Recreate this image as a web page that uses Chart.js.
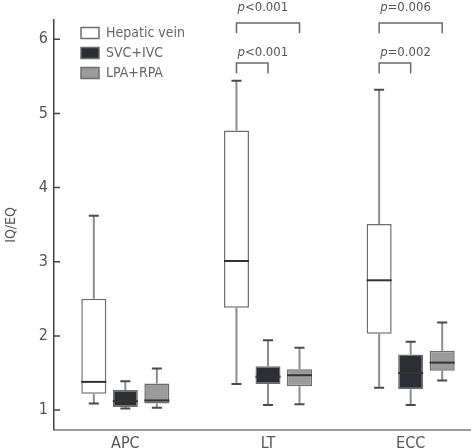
<!DOCTYPE html>
<html>
<head>
<meta charset="utf-8">
<script src="https://cdn.jsdelivr.net/npm/chart.js@4.4.1/dist/chart.umd.min.js"></script>
<style>
  html, body { margin: 0; padding: 0; overflow: hidden; background: #fff; }
  #wrap { width: 482px; height: 457px; }
</style>
</head>
<body>
<div id="wrap"><canvas id="boxChart"></canvas></div>
<script>
const categories = ['APC', 'LT', 'ECC'];
const seriesNames = ['Hepatic vein', 'SVC+IVC', 'LPA+RPA'];

// one entry per category: [min, q1, median, q3, max]
const hepaticVein = [[1.09, 1.22, 1.38, 2.50, 3.62], [1.35, 2.38, 3.01, 4.77, 5.44], [1.30, 2.03, 2.75, 3.51, 5.32]];
const svcIvc      = [[1.02, 1.04, 1.12, 1.27, 1.39], [1.07, 1.35, 1.45, 1.59, 1.94], [1.07, 1.28, 1.50, 1.75, 1.92]];
const lpaRpa      = [[1.03, 1.09, 1.13, 1.36, 1.56], [1.08, 1.32, 1.47, 1.55, 1.84], [1.40, 1.53, 1.64, 1.80, 2.18]];

const yTicks = [1, 2, 3, 4, 5, 6];

// p-value comparisons: hepatic vein vs. another series within a category
const pCategory = [1, 1, 2, 2];
const pVsSeries = [2, 1, 2, 1];
const pLabels = ['p<0.001', 'p<0.001', 'p=0.006', 'p=0.002'];

const FONT = "'Liberation Sans Narrow', 'DejaVu Sans Condensed', 'Roboto Condensed', 'Liberation Sans', sans-serif";
const fills = ['#ffffff', '#2d2e34', '#9b9b9b'];
const allSeries = [hepaticVein, svcIvc, lpaRpa];

// whiskers, caps and medians on top of the floating bars
const whiskerPlugin = {
    id: 'whiskers',
    afterDatasetsDraw(chart) {
        const ctx = chart.ctx;
        const y = chart.scales.y;
        chart.data.datasets.forEach((ds, i) => {
            const meta = chart.getDatasetMeta(i);
            meta.data.forEach((bar, j) => {
                const [mn, q1, md, q3, mx] = ds.stats[j];
                const x = bar.x;
                ctx.save();
                ctx.strokeStyle = '#8c8c8c';
                ctx.lineWidth = 2;
                ctx.beginPath();
                ctx.moveTo(x, y.getPixelForValue(q3));
                ctx.lineTo(x, y.getPixelForValue(mx));
                ctx.moveTo(x, y.getPixelForValue(q1));
                ctx.lineTo(x, y.getPixelForValue(mn));
                ctx.stroke();
                ctx.strokeStyle = '#4a4a4a';
                ctx.beginPath();
                [mn, mx].forEach(v => {
                    const py = y.getPixelForValue(v);
                    ctx.moveTo(x - 5, py);
                    ctx.lineTo(x + 5, py);
                });
                ctx.stroke();
                ctx.strokeStyle = '#333';
                ctx.beginPath();
                const pm = y.getPixelForValue(md);
                ctx.moveTo(x - bar.width / 2, pm);
                ctx.lineTo(x + bar.width / 2, pm);
                ctx.stroke();
                ctx.restore();
            });
        });
    }
};

// inner tick marks on the y axis
const innerTicks = {
    id: 'innerTicks',
    afterDraw(chart) {
        const ctx = chart.ctx;
        const y = chart.scales.y;
        const left = chart.chartArea.left;
        ctx.save();
        ctx.strokeStyle = '#444';
        ctx.lineWidth = 1.5;
        ctx.beginPath();
        yTicks.forEach(t => {
            const py = y.getPixelForValue(t);
            ctx.moveTo(left, py);
            ctx.lineTo(left + 6, py);
        });
        ctx.stroke();
        ctx.restore();
    }
};

// significance brackets above the LT and ECC groups
const brackets = {
    id: 'brackets',
    afterDraw(chart) {
        const ctx = chart.ctx;
        const y = chart.scales.y;
        ctx.save();
        pLabels.forEach((label, k) => {
            const c = pCategory[k];
            const x1 = chart.getDatasetMeta(0).data[c].x;
            const x2 = chart.getDatasetMeta(pVsSeries[k]).data[c].x;
            const wide = pVsSeries[k] === 2;
            const level = wide ? 6.22 : 5.68;
            const top = y.getPixelForValue(level);
            const leg = y.getPixelForValue(level - 0.14);
            ctx.strokeStyle = '#6a6a6a';
            ctx.lineWidth = 1.5;
            ctx.beginPath();
            ctx.moveTo(x1, leg);
            ctx.lineTo(x1, top);
            ctx.lineTo(x2, top);
            ctx.lineTo(x2, leg);
            ctx.stroke();

            const ty = y.getPixelForValue(level + (wide ? 0.21 : 0.145));
            ctx.fillStyle = '#555';
            ctx.textBaseline = 'middle';
            ctx.textAlign = 'left';
            ctx.font = 'italic 13px ' + FONT;
            ctx.fillText(label[0], x1 + 1, ty);
            const w = ctx.measureText(label[0]).width;
            ctx.font = '13px ' + FONT;
            ctx.fillText(label.slice(1), x1 + 1 + w, ty);
        });
        ctx.restore();
    }
};

// move the in-plot legend to where the figure has it
const legendShift = {
    id: 'legendShift',
    afterLayout(chart) {
        const lg = chart.legend;
        lg.left += 21;
        lg.right += 21;
        lg.top += 20;
        lg.bottom += 20;
    }
};

const ctx = document.getElementById('boxChart').getContext('2d');
new Chart(ctx, {
    type: 'bar',
    data: {
        labels: categories,
        datasets: allSeries.map((s, i) => ({
            label: seriesNames[i],
            data: s.map(d => [d[1], d[3]]),
            stats: s,
            backgroundColor: fills[i],
            borderColor: '#6e6e6e',
            borderWidth: 1.5,
            borderSkipped: false,
            categoryPercentage: 0.663,
            barPercentage: 0.794,
        })),
    },
    options: {
        responsive: true,
        maintainAspectRatio: false,
        animation: false,
        layout: { padding: { top: 20, right: 0, bottom: 0, left: 0 } },
        scales: {
            x: {
                grid: { display: false, drawTicks: false },
                border: { color: '#9a9a9a', width: 2 },
                ticks: { color: '#555', font: { family: FONT, size: 16 }, padding: 4 },
            },
            y: {
                min: 0.734,
                max: 6.26,
                afterFit(scale) { scale.width = 54; },
                grid: { display: false, drawTicks: false },
                border: { color: '#444', width: 1.5 },
                ticks: {
                    stepSize: 1,
                    includeBounds: false,
                    color: '#555',
                    padding: 6,
                    font: { family: FONT, size: 16 },
                },
                title: {
                    display: true,
                    text: 'IQ/EQ',
                    color: '#555',
                    font: { family: FONT, size: 14 },
                    padding: { top: 3, bottom: 0 },
                },
            },
        },
        plugins: {
            tooltip: { enabled: false },
            legend: {
                position: 'chartArea',
                align: 'start',
                labels: {
                    boxWidth: 18,
                    boxHeight: 11,
                    padding: 6,
                    color: '#666',
                    font: { family: FONT, size: 14 },
                },
            },
        },
    },
    plugins: [whiskerPlugin, innerTicks, brackets, legendShift],
});
</script>
</body>
</html>
